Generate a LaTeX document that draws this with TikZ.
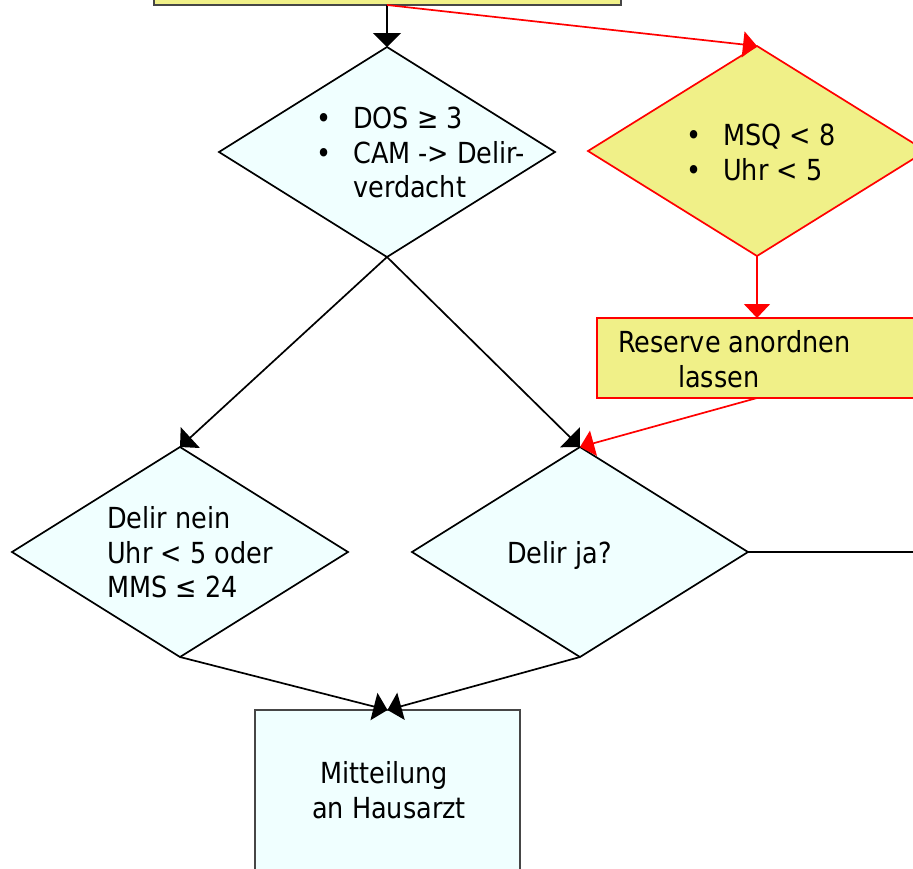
\documentclass[tikz,border=0pt]{standalone}
\usepackage{fontspec}
\setmainfont{DejaVu Sans}[FakeStretch=0.88]
\usetikzlibrary{shapes.geometric,arrows.meta}
\definecolor{yfill}{RGB}{240,240,136}
\definecolor{cfill}{RGB}{240,255,255}
\definecolor{rline}{RGB}{255,0,0}
\definecolor{gline}{RGB}{70,70,70}
\tikzset{
  dia/.style={diamond,draw=black,fill=cfill,line width=1.7pt,inner sep=0pt,outer sep=0pt,minimum width=336pt,minimum height=210pt},
  ydia/.style={dia,draw=rline,fill=yfill},
  boxc/.style={rectangle,draw=gline,fill=cfill,line width=1.7pt,inner sep=0pt,outer sep=0pt},
  boxy/.style={rectangle,draw=rline,fill=yfill,line width=1.7pt,inner sep=0pt,outer sep=0pt},
  lbl/.style={anchor=base west,inner sep=0pt,font=\fontsize{29}{33}\selectfont},
  blk/.style={draw=black,line width=1.7pt,-{Triangle[width=28pt,length=14pt]}},
  red/.style={draw=rline,line width=1.7pt,-{Triangle[width=26pt,length=14pt]}},
}
\begin{document}
\begin{tikzpicture}[x=1pt,y=-1pt]
\clip (0,0) rectangle (913,868);
\fill[white] (0,0) rectangle (913,868);
% nodes
\node[boxy,fill=yfill,draw=gline,minimum width=467pt,minimum height=40pt] (top) at (387.5,-15) {};
\node[dia] (d1) at (387,152) {};
\node[ydia,minimum width=338pt] (yd) at (757,151) {};
\node[boxy,minimum width=360pt,minimum height=80pt] (res) at (777,358) {};
\node[dia] (ld) at (180,552) {};
\node[dia] (md) at (580,552) {};
\node[boxc,minimum width=265pt,minimum height=200pt] (bot) at (387.5,810) {};
\coordinate (mdout) at (930,552);
% connectors
\draw[blk] (d1.north |- top.south) -- (d1.north);
\draw[red] (d1.north |- top.south) -- (yd.north);
\draw[blk] (d1.south) -- (ld.north);
\draw[blk] (d1.south) -- (md.north);
\draw[red] (yd.south) -- (yd.south |- res.north);
\draw[red] (yd.south |- res.south) -- (md.north);
\draw[blk] (ld.south) -- (bot.north);
\draw[blk] (md.south) -- (bot.north);
\draw[black,line width=1.7pt] (md.east) -- (mdout);
% texts
\node[lbl] (b1) at (316,128) {•};
\node[lbl] (t1) at (353,128) {DOS ≥ 3};
\node[lbl] (b2) at (316,163) {•};
\node[lbl] (t2) at (353,163) {CAM -> Delir-};
\node[lbl] (t3) at (353,197) {verdacht};
\node[lbl] (b3) at (686,145) {•};
\node[lbl] (t4) at (723,145) {MSQ < 8};
\node[lbl] (b4) at (686,180) {•};
\node[lbl] (t5) at (723,180) {Uhr < 5};
\node[lbl] (t6) at (618,352) {Reserve anordnen};
\node[lbl] (t7) at (678,387) {lassen};
\node[lbl] (t8) at (107,528) {Delir nein};
\node[lbl] (t9) at (107,563) {Uhr < 5 oder};
\node[lbl] (t10) at (107,597) {MMS ≤ 24};
\node[lbl] (t11) at (507,563) {Delir ja?};
\node[lbl] (t12) at (320,783) {Mitteilung};
\node[lbl] (t13) at (312,818) {an Hausarzt};
\end{tikzpicture}
\end{document}
